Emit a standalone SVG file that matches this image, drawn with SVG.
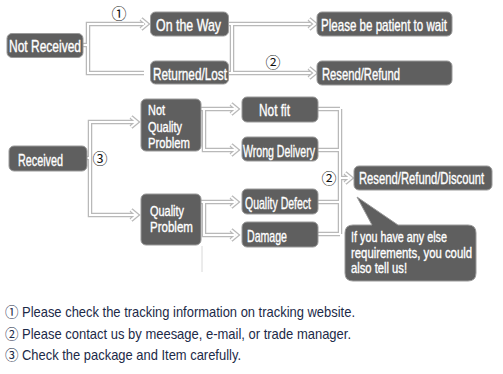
<svg xmlns="http://www.w3.org/2000/svg" width="503" height="374" viewBox="0 0 503 374">
<style>
.bx{fill:#5f5f5f;stroke:#9a9a9a;stroke-width:1}
.t{fill:#fff;stroke:#fff;stroke-width:0.35;font-family:"Liberation Sans",Arial,sans-serif;font-size:16px}
.b{font-size:15px}
.co{fill:none;stroke:#b9b9b9;stroke-width:4.5;stroke-linejoin:miter}
.ci{fill:none;stroke:#fff;stroke-width:2;stroke-linejoin:miter}
.num{font-family:"Noto Sans CJK SC","DejaVu Sans",sans-serif;font-size:15px;fill:#111;text-anchor:middle}
.lg{font-family:"Liberation Sans",Arial,sans-serif;font-size:14.5px;fill:#1c2a48}
.lgn{font-family:"Noto Sans CJK SC","DejaVu Sans",sans-serif;font-size:13.5px;fill:#1c2a48}
</style>
<defs>
<path id="conns" d="M144,24 H88 V73 H144 M83,45 H88 M310,24 H229 M232,24 V73 M229,73 H310 M137,122 H90 V215 H137 M87,158 H90 M201,109 H235 M204,109 V150 H235 M201,202 H235 M204,202 V235 H235 M318,109 H340 M318,150 H340 M318,202 H340 M318,234 H340 M340,109 V234 M340,178 H349"/>
<path id="chev" d="M141,19 L147,24 L141,29 M309,19 L315,24 L309,29 M309,68 L315,73 L309,78 M131,117 L137,122 L131,127 M131,210 L137,215 L131,220 M231,104 L237,109 L231,114 M231,145 L237,150 L231,155 M231,197 L237,202 L231,207 M231,230 L237,235 L231,240 M345,173 L351,178 L345,183"/>
</defs>
<rect width="503" height="374" fill="#fff"/>
<g id="connectors">
<use href="#conns" class="co"/>
<use href="#chev" class="co"/>
<use href="#conns" class="ci"/>
<use href="#chev" class="ci"/>
<line x1="202" y1="246" x2="202" y2="272" stroke="#d8d8d8" stroke-width="1"/>
<text class="num" x="119" y="19">①</text>
<text class="num" x="273" y="68">②</text>
<text class="num" x="100" y="164">③</text>
<text class="num" x="329" y="184">②</text>
</g>
<g id="not-received"><rect class="bx" x="7" y="33.5" width="76" height="24" rx="5"/><text class="t" transform="translate(9,52) scale(0.7,1)" textLength="102.9" lengthAdjust="spacingAndGlyphs">Not Received</text></g>
<g id="on-the-way"><rect class="bx" x="150.5" y="12" width="78" height="24" rx="5"/><text class="t" transform="translate(156,30.5) scale(0.7,1)" textLength="92.9" lengthAdjust="spacingAndGlyphs">On the Way</text></g>
<g id="returned-lost"><rect class="bx" x="150.5" y="61" width="78" height="23" rx="5"/><text class="t" transform="translate(153,80) scale(0.7,1)" textLength="105.7" lengthAdjust="spacingAndGlyphs">Returned/Lost</text></g>
<g id="patient"><rect class="bx" x="317" y="12" width="135" height="24" rx="5"/><text class="t" transform="translate(321,30.5) scale(0.7,1)" textLength="180" lengthAdjust="spacingAndGlyphs">Please be patient to wait</text></g>
<g id="resend-refund"><rect class="bx" x="317" y="61" width="135" height="24" rx="5"/><text class="t" transform="translate(322,80) scale(0.7,1)" textLength="111.4" lengthAdjust="spacingAndGlyphs">Resend/Refund</text></g>
<g id="received"><rect class="bx" x="9" y="146" width="78" height="25" rx="5"/><text class="t" transform="translate(18,166) scale(0.7,1)" textLength="64.3" lengthAdjust="spacingAndGlyphs">Received</text></g>
<g id="not-quality-problem"><rect class="bx" x="141" y="99" width="60" height="52" rx="5"/><text class="t b" transform="translate(148,115) scale(0.7,1)" textLength="24.3" lengthAdjust="spacingAndGlyphs">Not</text><text class="t b" transform="translate(148,132) scale(0.7,1)" textLength="48.6" lengthAdjust="spacingAndGlyphs">Quality</text><text class="t b" transform="translate(148,148) scale(0.7,1)" textLength="60" lengthAdjust="spacingAndGlyphs">Problem</text></g>
<g id="quality-problem"><rect class="bx" x="141" y="194" width="60" height="51" rx="5"/><text class="t b" transform="translate(150,216) scale(0.7,1)" textLength="48.6" lengthAdjust="spacingAndGlyphs">Quality</text><text class="t b" transform="translate(150,232) scale(0.7,1)" textLength="61.4" lengthAdjust="spacingAndGlyphs">Problem</text></g>
<g id="not-fit"><rect class="bx" x="242" y="97" width="76" height="25" rx="5"/><text class="t" transform="translate(259,116) scale(0.7,1)" textLength="44.3" lengthAdjust="spacingAndGlyphs">Not fit</text></g>
<g id="wrong-delivery"><rect class="bx" x="242" y="137" width="76" height="24" rx="5"/><text class="t" transform="translate(243,157) scale(0.7,1)" textLength="102.9" lengthAdjust="spacingAndGlyphs">Wrong Delivery</text></g>
<g id="quality-defect"><rect class="bx" x="242" y="189" width="76" height="25" rx="5"/><text class="t" transform="translate(245,209) scale(0.7,1)" textLength="94.3" lengthAdjust="spacingAndGlyphs">Quality Defect</text></g>
<g id="damage"><rect class="bx" x="242" y="222" width="76" height="25" rx="5"/><text class="t" transform="translate(247,242) scale(0.7,1)" textLength="57.1" lengthAdjust="spacingAndGlyphs">Damage</text></g>
<g id="resend-refund-discount"><rect class="bx" x="354" y="166" width="138" height="24" rx="5"/><text class="t" transform="translate(359,184) scale(0.7,1)" textLength="178.6" lengthAdjust="spacingAndGlyphs">Resend/Refund/Discount</text></g>
<g id="bubble"><path class="bx" d="M353,225 L372,225 L357,197 L398,225 L468,225 Q476,225 476,233 L476,273 Q476,281 468,281 L353,281 Q345,281 345,273 L345,233 Q345,225 353,225 Z"/><text class="t b" transform="translate(351,242) scale(0.7,1)" textLength="137.1" lengthAdjust="spacingAndGlyphs">If you have any else</text><text class="t b" transform="translate(351,257.5) scale(0.7,1)" textLength="172.9" lengthAdjust="spacingAndGlyphs">requirements, you could</text><text class="t b" transform="translate(351,273) scale(0.7,1)" textLength="80" lengthAdjust="spacingAndGlyphs">also tell us!</text></g>
<g id="legend">
<text class="lgn" x="5" y="316.5">①</text><text class="lg" x="22" y="316.5" textLength="333" lengthAdjust="spacingAndGlyphs">Please check the tracking information on tracking website.</text>
<text class="lgn" x="5" y="338.5">②</text><text class="lg" x="22" y="338.5" textLength="329" lengthAdjust="spacingAndGlyphs">Please contact us by meesage, e-mail, or trade manager.</text>
<text class="lgn" x="5" y="360">③</text><text class="lg" x="22" y="360" textLength="219" lengthAdjust="spacingAndGlyphs">Check the package and Item carefully.</text>
</g>
</svg>
